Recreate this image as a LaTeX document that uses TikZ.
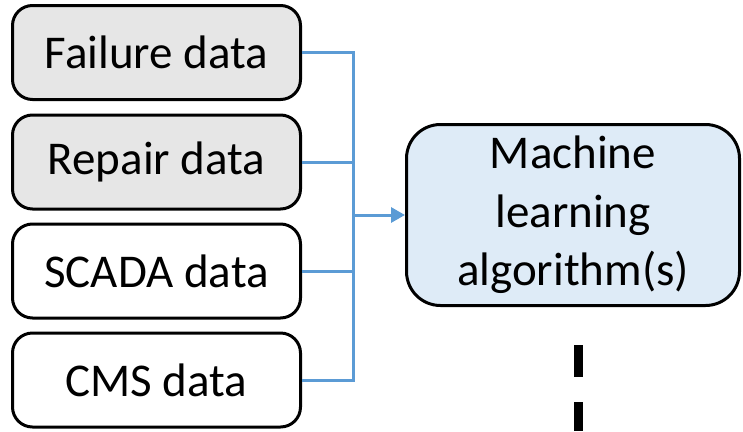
\documentclass[tikz,border=0pt]{standalone}
\usepackage{fontspec}
\setmainfont{Carlito}
\usetikzlibrary{arrows.meta}

\definecolor{boxgray}{HTML}{E6E6E6}
\definecolor{boxblue}{HTML}{DEEBF7}
\definecolor{linkblue}{HTML}{5B9BD5}

\begin{document}
\begin{tikzpicture}[x=1pt,y=-1pt,
  databox/.style={draw=black, line width=3pt, rounded corners=20pt, minimum width=288pt, minimum height=94pt, inner sep=0pt, font=\fontsize{47}{58}\selectfont},
  algobox/.style={draw=black, fill=boxblue, line width=3pt, rounded corners=34pt, minimum width=333pt, minimum height=181pt, inner sep=0pt, align=center, font=\fontsize{47}{58.5}\selectfont},
  link/.style={draw=linkblue, line width=3pt}]

\useasboundingbox (0,0) rectangle (743,431);

% Input data boxes
\node[databox, fill=boxgray] (failure) at (156.5,52.5) {Failure data};
\node[databox, fill=boxgray] (repair) at (156.5,162) {Repair data};
\node[databox, fill=white] (scada) at (156.5,271) {SCADA data};
\node[databox, fill=white] (cms) at (156.5,380) {CMS data};

% Algorithm box
\node[algobox] (algo) at (573,215) {Machine\\learning\\algorithm(s)};

% Collecting line
\coordinate (bus) at (353,215);
\draw[link] (failure.east) -| (bus |- cms.east) -- (cms.east);
\draw[link] (repair.east) -- (bus |- repair.east);
\draw[link] (scada.east) -- (bus |- scada.east);
\draw[link, -{Triangle[length=14pt,width=15pt]}] (bus) -- (algo.west);

% Dashed line below
\coordinate (d_1) at (578,345);
\coordinate (d_2) at (578,431);
\draw[line width=9pt, dash pattern=on 32pt off 25pt] (d_1) -- (d_2);

\end{tikzpicture}
\end{document}
